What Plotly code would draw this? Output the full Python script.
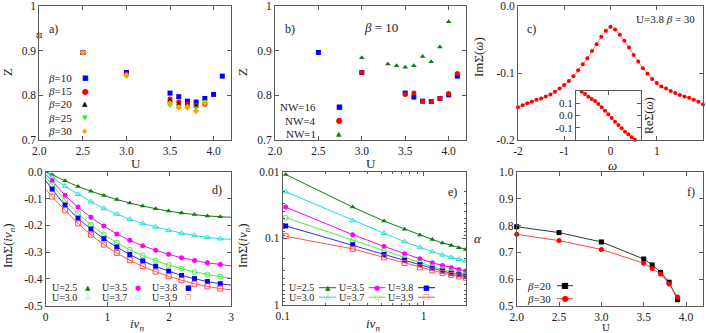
import plotly.graph_objects as go

W, H = 706, 333

# ---------------- data ----------------
# a) quasiparticle weight Z vs U for several beta
U_a10 = [2.0, 2.5, 3.0, 3.5, 3.6, 3.7, 3.8, 3.9, 4.0, 4.1]
Z_beta10 = [0.934, 0.896, 0.851, 0.805, 0.797, 0.787, 0.785, 0.793, 0.802, 0.843]
U_a = [2.0, 2.5, 3.0, 3.5, 3.6, 3.7, 3.8, 3.9]
Z_beta15 = [0.934, 0.896, 0.848, 0.792, 0.785, 0.780, 0.778, 0.780]
Z_beta20 = [0.934, 0.896, 0.846, 0.788, 0.780, 0.776, 0.775, 0.785]
Z_beta25 = [0.934, 0.896, 0.842, 0.778, 0.776, 0.771, 0.772, 0.787]
Z_beta30 = [0.934, 0.896, 0.845, 0.782, 0.773, 0.774, 0.765, 0.782]

# b) Z vs U at beta=10 for several NW
U_nw16 = [2.5, 3.0, 3.5, 3.6, 3.7, 3.8, 3.9, 4.0, 4.1]
Z_nw16 = [0.896, 0.851, 0.805, 0.796, 0.787, 0.786, 0.793, 0.801, 0.843]
U_nw4 = [3.0, 3.5, 3.6, 3.7, 3.8, 3.9, 4.0, 4.1]
Z_nw4 = [0.851, 0.802, 0.805, 0.787, 0.786, 0.793, 0.804, 0.849]
U_nw1 = [3.0, 3.3, 3.4, 3.5, 3.6, 3.7, 3.8, 3.9, 4.0]
Z_nw1 = [0.884, 0.870, 0.866, 0.863, 0.866, 0.887, 0.875, 0.908, 0.965]

# c) Im Sigma(omega), U=3.8 beta=30
omega = [-2.0, -1.9, -1.8, -1.7, -1.6, -1.5, -1.4, -1.3, -1.2, -1.1, -1.0,
         -0.9, -0.8, -0.7, -0.6, -0.5, -0.4, -0.3, -0.2, -0.1, 0.0,
         0.1, 0.2, 0.3, 0.4, 0.5, 0.6, 0.7, 0.8, 0.9, 1.0,
         1.1, 1.2, 1.3, 1.4, 1.5, 1.6, 1.7, 1.8, 1.9, 2.0]
im_sigma_w = [-0.151, -0.148, -0.145, -0.143, -0.140, -0.138, -0.135, -0.132, -0.128, -0.123, -0.118,
              -0.112, -0.105, -0.096, -0.087, -0.078, -0.067, -0.057, -0.046, -0.037, -0.031,
              -0.035, -0.043, -0.052, -0.062, -0.073, -0.083, -0.093, -0.101, -0.109, -0.115,
              -0.120, -0.123, -0.127, -0.130, -0.133, -0.135, -0.137, -0.140, -0.143, -0.147]
omega_inset = [-0.8, -0.7, -0.6, -0.5, -0.4, -0.3, -0.2, -0.1, 0.0, 0.1, 0.2, 0.3, 0.4, 0.5, 0.6, 0.7, 0.8]
re_sigma_w = [0.192, 0.173, 0.151, 0.133, 0.116, 0.092, 0.065, 0.038, 0.009, -0.021, -0.051,
              -0.078, -0.105, -0.133, -0.154, -0.178, -0.198]

# d,e) -Im Sigma(i nu_n) on Matsubara frequencies
nu_n = [0.105, 0.314, 0.524, 0.733, 0.942, 1.152, 1.361, 1.571, 1.780, 1.990, 2.199, 2.409, 2.618, 2.827]
U_labels = ["U=2.5", "U=3.0", "U=3.5", "U=3.7", "U=3.8", "U=3.9"]
mis_U25 = [0.011, 0.034, 0.055, 0.073, 0.089, 0.104, 0.117, 0.128, 0.138, 0.147, 0.154, 0.160, 0.165, 0.168]
mis_U30 = [0.020, 0.054, 0.084, 0.112, 0.137, 0.158, 0.177, 0.193, 0.206, 0.218, 0.229, 0.238, 0.245, 0.250]
mis_U35 = [0.034, 0.088, 0.132, 0.170, 0.203, 0.232, 0.256, 0.276, 0.293, 0.308, 0.321, 0.331, 0.340, 0.346]
mis_U37 = [0.049, 0.106, 0.155, 0.198, 0.234, 0.265, 0.291, 0.313, 0.332, 0.348, 0.362, 0.374, 0.384, 0.392]
mis_U38 = [0.065, 0.125, 0.174, 0.214, 0.250, 0.281, 0.309, 0.333, 0.353, 0.371, 0.387, 0.399, 0.410, 0.418]
mis_U39 = [0.093, 0.144, 0.193, 0.235, 0.272, 0.303, 0.330, 0.353, 0.373, 0.390, 0.405, 0.418, 0.428, 0.436]
fit_nu = [0.0, 3.0]
fit_ends_U25 = [0.000, 0.170]
fit_ends_U30 = [0.002, 0.252]
fit_ends_U35 = [0.010, 0.352]
fit_ends_U37 = [0.020, 0.398]
fit_ends_U38 = [0.033, 0.423]
fit_ends_U39 = [0.065, 0.441]

# f) exponent alpha vs U
U_f = [2.0, 2.5, 3.0, 3.5, 3.6, 3.7, 3.8, 3.9]
alpha_beta20 = [0.796, 0.774, 0.739, 0.675, 0.653, 0.625, 0.588, 0.5225]
alpha_beta30 = [0.7675, 0.744, 0.711, 0.659, 0.639, 0.619, 0.581, 0.5325]

# tick labels
U_ticks = [2.0, 2.5, 3.0, 3.5, 4.0]
U_ticktext = ["2.0", "2.5", "3.0", "3.5", "4.0"]
Z_ticks = [0.7, 0.8, 0.9, 1.0]
Z_ticktext = ["0.7", "0.8", "0.9", "1"]
w_ticks = [-2, -1, 0, 1, 2]
w_ticktext = ["-2", "-1", "0", "1", "2"]
ims_ticks = [-0.2, -0.1, 0.0]
ims_ticktext = ["-0.2", "-0.1", "0.0"]
res_ticks = [-0.1, 0.0, 0.1]
res_ticktext = ["-0.1", "0.0", "0.1"]
nu_ticks = [0, 1, 2, 3]
nu_ticktext = ["0", "1", "2", "3"]
imsn_ticks = [-0.5, -0.4, -0.3, -0.2, -0.1, 0.0]
imsn_ticktext = ["-0.5", "-0.4", "-0.3", "-0.2", "-0.1", "0.0"]
lognu_ticks = [0.1, 1]
lognu_ticktext = ["0.1", "1"]
lognu_minor = [0.2, 0.3, 0.4, 0.5, 0.6, 0.7, 0.8, 0.9, 2]
logims_ticks = [0.01, 0.1, 1]
logims_ticktext = ["0.01", "0.1", "1"]
logims_minor = [0.02, 0.03, 0.04, 0.05, 0.06, 0.07, 0.08, 0.09, 0.2, 0.3, 0.4, 0.5, 0.6, 0.7, 0.8, 0.9]
alpha_ticks = [0.5, 0.6, 0.7, 0.8, 0.9, 1.0]
alpha_ticktext = ["0.5", "0.6", "0.7", "0.8", "0.9", "1.0"]

# ---------------- styling ----------------
FONT = "Liberation Serif"
SYM = "DejaVu Sans"
FRAME = "#5a5a5a"
TXT = "#222222"

BLUE = "#0000ff"
RED = "#ff0000"
BLACK = "#000000"
LGREEN = "#22ee22"
ORANGE = "#ffa500"
DGREEN = "#127a12"
CYAN = "#22dddd"
MAGENTA = "#ff00ff"
GREEN37 = "#44ee44"
SALMON = "#ff5050"


def dom_x(x0, x1):
    return [x0 / W, x1 / W]


def dom_y(ytop, ybot):
    return [1 - ybot / H, 1 - ytop / H]


def axis(domain, rng, tickvals, ticktext, anchor, typ="linear", minor_vals=None, labels=True, fsize=11.5):
    d = dict(domain=domain, range=rng, type=typ, anchor=anchor, automargin=False,
             tickmode="array", tickvals=tickvals, ticktext=ticktext,
             showline=True, linecolor=FRAME, linewidth=1, mirror="allticks",
             ticks="inside", ticklen=4, tickcolor=FRAME, tickwidth=1,
             showgrid=False, zeroline=False, showticklabels=labels,
             tickfont=dict(family=FONT, size=fsize, color=TXT), fixedrange=True)
    if minor_vals is not None:
        d["minor"] = dict(tickmode="array", tickvals=minor_vals, ticks="inside",
                          ticklen=2, tickcolor=FRAME, showgrid=False)
    return d


fig = go.Figure()


def pts(x, y, ax, sym, color, size=5, clip=False, line=None, mode="markers", shape="linear"):
    tr = go.Scatter(x=x, y=y, xaxis=ax[0], yaxis=ax[1], mode=mode,
                    marker=dict(symbol=sym, color=color, size=size,
                                line=dict(width=1 if "open" in sym else 0, color=color)),
                    showlegend=False, cliponaxis=clip, hoverinfo="skip")
    if line is not None:
        tr.line = dict(color=line, width=1, shape=shape)
    fig.add_trace(tr)


def curve(x, y, ax, color, shape="linear"):
    fig.add_trace(go.Scatter(x=x, y=y, xaxis=ax[0], yaxis=ax[1], mode="lines",
                             line=dict(color=color, width=1, shape=shape),
                             showlegend=False, cliponaxis=True, hoverinfo="skip"))


# a)
A = ("x", "y")
pts(U_a10, Z_beta10, A, "square", BLUE, 5)
pts(U_a, Z_beta15, A, "circle", RED, 5)
pts(U_a, Z_beta20, A, "triangle-up", BLACK, 5)
pts(U_a, Z_beta25, A, "triangle-down", LGREEN, 5)
pts(U_a, Z_beta30, A, "diamond", ORANGE, 5)

# b)
B = ("x2", "y2")
pts(U_nw16, Z_nw16, B, "square", BLUE, 5)
pts(U_nw4, Z_nw4, B, "circle", RED, 5)
pts(U_nw1, Z_nw1, B, "triangle-up", DGREEN, 5)

# c)
C = ("x3", "y3")
pts(omega, im_sigma_w, C, "circle", RED, 4, line="#ff7070", mode="lines+markers", shape="spline")
CI = ("x7", "y7")
pts(omega_inset, re_sigma_w, CI, "circle", RED, 4, line="#ff7070", mode="lines+markers", shape="spline")

# d) and e)
D = ("x4", "y4")
E = ("x5", "y5")
series = [
    (mis_U25, fit_ends_U25, "triangle-up", DGREEN, DGREEN),
    (mis_U30, fit_ends_U30, "triangle-up-open", CYAN, CYAN),
    (mis_U35, fit_ends_U35, "circle", MAGENTA, MAGENTA),
    (mis_U37, fit_ends_U37, "circle-open", GREEN37, GREEN37),
    (mis_U38, fit_ends_U38, "square", BLUE, "#3030ff"),
    (mis_U39, fit_ends_U39, "square-open", SALMON, SALMON),
]
for vals, ends, sym, mc, lc in series:
    line_x = [fit_nu[0]] + nu_n + [fit_nu[1]]
    line_y = [ends[0]] + vals + [ends[1]]
    curve(line_x, [-v for v in line_y], D, lc, shape="spline")
    pts(nu_n, [-v for v in vals], D, sym, mc, 5)
    curve(nu_n + [fit_nu[1]], vals + [ends[1]], E, lc)
    pts(nu_n, vals, E, sym, mc, 5, clip=True)

# f)
F = ("x6", "y6")
pts(U_f, alpha_beta20, F, "square", BLACK, 5, line="#333333", mode="lines+markers")
pts(U_f, alpha_beta30, F, "circle", RED, 5, line="#ff4040", mode="lines+markers")

# ---------------- layout ----------------
row1 = dom_y(6, 140)
layout = dict(
    width=W, height=H, autosize=False,
    margin=dict(l=0, r=0, t=0, b=0, pad=0),
    paper_bgcolor="white", plot_bgcolor="white",
    showlegend=False,
    xaxis=axis(dom_x(39.3, 231), [2.0, 4.2], U_ticks, U_ticktext, "y"),
    yaxis=axis(row1, [0.7, 1.0], Z_ticks, Z_ticktext, "x"),
    xaxis2=axis(dom_x(275, 466), [2.0, 4.2], U_ticks, U_ticktext, "y2"),
    yaxis2=axis(row1, [0.7, 1.0], Z_ticks, Z_ticktext, "x2"),
    xaxis3=axis(dom_x(518, 703), [-2, 2], w_ticks, w_ticktext, "y3"),
    yaxis3=axis(row1, [-0.2, 0.0], ims_ticks, ims_ticktext, "x3"),
    xaxis4=axis(dom_x(45.7, 231), [0, 3], nu_ticks, nu_ticktext, "y4"),
    yaxis4=axis(dom_y(171.7, 305.7), [-0.5, 0.0], imsn_ticks, imsn_ticktext, "x4"),
    xaxis5=axis(dom_x(282.7, 466), [-1, 0.30103], lognu_ticks, lognu_ticktext, "y5", typ="log",
                minor_vals=lognu_minor),
    yaxis5=axis(dom_y(171.7, 305), [0, -2], logims_ticks, logims_ticktext, "x5", typ="log",
                minor_vals=logims_minor),
    xaxis6=axis(dom_x(516.7, 703), [2.0, 4.2], U_ticks, U_ticktext, "y6"),
    yaxis6=axis(dom_y(172.3, 305.7), [0.5, 1.0], alpha_ticks, alpha_ticktext, "x6"),
    xaxis7=axis(dom_x(576, 641), [-0.97, 0.98], [0], ["0"], "y7", labels=False),
    yaxis7=axis(dom_y(90.7, 140), [-0.2, 0.2], res_ticks, res_ticktext, "x7", fsize=11),
)
fig.update_layout(**layout)

# ---------------- annotations (titles, labels, legends) ----------------
anns = []


def ann(text, x, y, size=12, xanchor="center", color=TXT, angle=0, family=FONT):
    anns.append(dict(text=text, x=x / W, y=1 - y / H, xref="paper", yref="paper",
                     xanchor=xanchor, yanchor="middle", showarrow=False, textangle=angle,
                     font=dict(family=family, size=size, color=color)))


# axis titles
ann("Z", 7, 72, 13, angle=-90)
ann("U", 136, 163, 13)
ann("Z", 242, 72, 13, angle=-90)
ann("U", 371, 163, 13)
ann("ImΣ(<i>ω</i>)", 478, 57, 13, angle=-90)
ann("<i>ω</i>", 612, 165, 13)
ann("ReΣ(<i>ω</i>)", 649, 116, 12, angle=-90)
ann("ImΣ(<i>iν</i><sub><i>n</i></sub>)", 8, 246, 13, angle=-90)
ann("<i>iν</i><sub><i>n</i></sub>", 137, 324, 13)
ann("ImΣ(<i>iν</i><sub><i>n</i></sub>)", 243, 246, 13, angle=-90)
ann("<i>iν</i><sub><i>n</i></sub>", 373, 324, 13)
ann("<i>α</i>", 478, 238, 13)
ann("U", 606, 327, 11)

# panel labels
ann("a)", 53, 29, 12)
ann("b)", 290, 29, 12)
ann("<i>β</i> = 10", 381, 27, 13)
ann("c)", 531, 29, 12)
ann("U=3.8 <i>β</i> = 30", 697, 19, 11, xanchor="right")
ann("d)", 217, 190, 12)
ann("e)", 453, 192, 12)
ann("f)", 691, 192, 12)

# legend a
leg_a = [("<i>β</i>=10", "■", BLUE, 7), ("<i>β</i>=15", "●", RED, 8), ("<i>β</i>=20", "▲", BLACK, 7),
         ("<i>β</i>=25", "▼", LGREEN, 7), ("<i>β</i>=30", "◆", ORANGE, 7)]
for i, (lab, g, col, gs) in enumerate(leg_a):
    yy = 78 + i * 13.2
    ann(lab, 74, yy, 11, xanchor="right")
    ann(g, 85, yy, gs, color=col, family=SYM)

# legend b
leg_b = [("NW=16", "■", BLUE, 7), ("NW=4", "●", RED, 8), ("NW=1", "▲", DGREEN, 7)]
for i, (lab, g, col, gs) in enumerate(leg_b):
    yy = 107 + i * 13.5
    ann(lab, 318, yy, 11, xanchor="right")
    ann(g, 339, yy, gs, color=col, family=SYM)

# legends d and e
leg_de = [("U=2.5", "▲", DGREEN), ("U=3.0", "△", CYAN), ("U=3.5", "●", MAGENTA),
          ("U=3.7", "○", GREEN37), ("U=3.8", "■", BLUE), ("U=3.9", "□", SALMON)]
shapes = []
for i, (lab, g, col) in enumerate(leg_de):
    colx = i // 2
    rowy = 287.7 + (i % 2) * 9.5
    # d
    ann(lab, 79 + colx * 50, rowy, 10, xanchor="right")
    ann(g, 88 + colx * 50, rowy, 7, color=col, family=SYM)
    # e
    ann(lab, 316 + colx * 49.5, rowy, 10, xanchor="right")
    shapes.append(dict(type="line", xref="paper", yref="paper",
                       x0=(319 + colx * 49.5) / W, x1=(336 + colx * 49.5) / W,
                       y0=1 - rowy / H, y1=1 - rowy / H, line=dict(color=col, width=1)))
    ann(g, 327.7 + colx * 49.5, rowy, 7, color=col, family=SYM)

# legend f
leg_f = [("<i>β</i>=20", "■", BLACK, "#333333"), ("<i>β</i>=30", "●", RED, "#ff4040")]
for i, (lab, g, col, lc) in enumerate(leg_f):
    yy = 285.7 + i * 13
    ann(lab, 553, yy, 11, xanchor="right")
    shapes.append(dict(type="line", xref="paper", yref="paper",
                       x0=557 / W, x1=573 / W, y0=1 - yy / H, y1=1 - yy / H,
                       line=dict(color=lc, width=1)))
    ann(g, 565, yy, 8, color=col, family=SYM)

fig.update_layout(annotations=anns, shapes=shapes)
fig.write_html("out.html", config={"displayModeBar": False, "staticPlot": True},
               post_script="document.body.style.margin='0';document.body.style.overflow='hidden';")
